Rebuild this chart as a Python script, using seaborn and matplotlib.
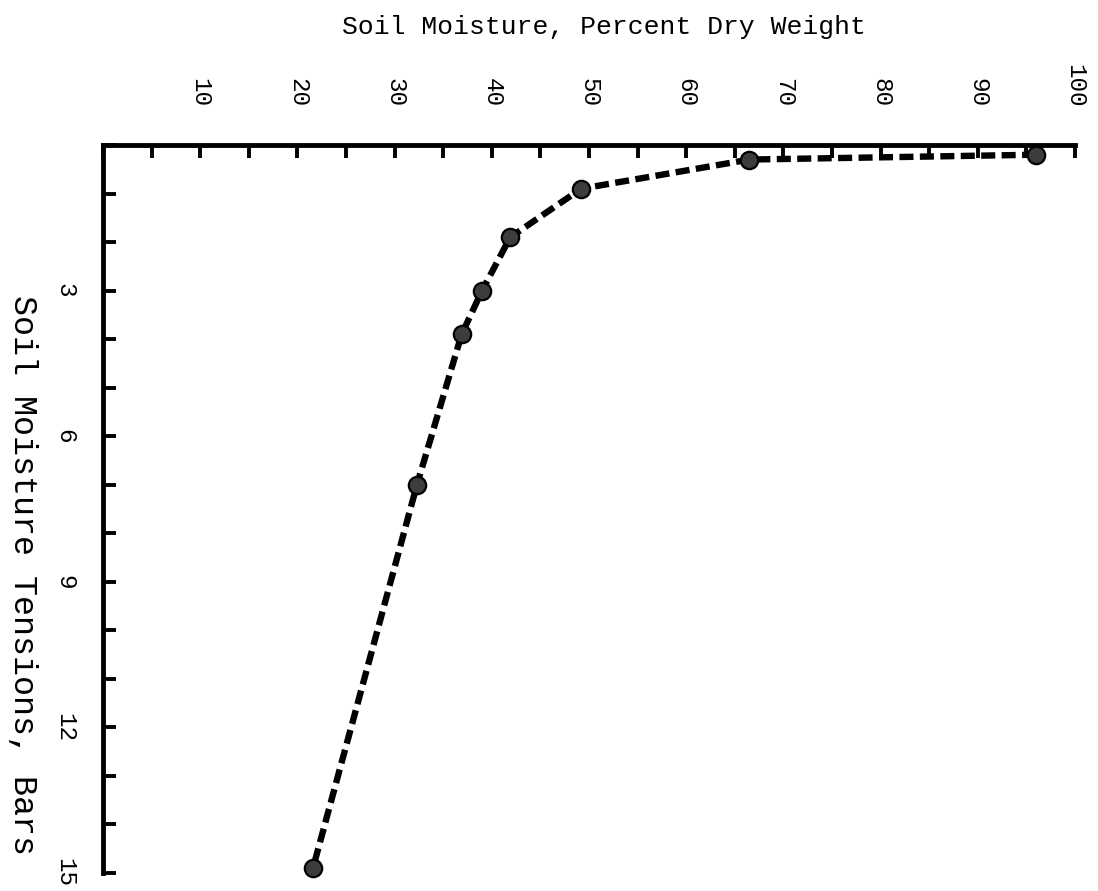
import matplotlib
matplotlib.use("Agg")
import matplotlib.pyplot as plt
import seaborn as sns
import pandas as pd

# Data (soil moisture retention curve)
moisture_pct = [96.0, 66.5, 49.2, 41.9, 39.0, 36.9, 32.3, 21.6]
tension_bars = [0.2, 0.3, 0.9, 1.9, 3.0, 3.9, 7.0, 14.9]
x_tick_values = [10, 20, 30, 40, 50, 60, 70, 80, 90, 100]
y_tick_values = [3, 6, 9, 12, 15]

sns.set_theme(style="white")
plt.rcParams["font.family"] = ["Liberation Mono", "DejaVu Sans Mono"]
plt.rcParams["text.color"] = "black"

W, H = 1098, 891
fig = plt.figure(figsize=(W / 100, H / 100), dpi=100)
left, right, top, bottom = 103, 1075, 145, 873
ax = fig.add_axes([left / W, 1 - bottom / H, (right - left) / W, (bottom - top) / H])

df = pd.DataFrame({"moisture": moisture_pct, "tension": tension_bars})
sns.lineplot(data=df, x="moisture", y="tension", sort=False, estimator=None, ax=ax,
             color="black", linewidth=4.6, linestyle=(0, (2.2, 1.0)),
             marker="o", markersize=12.5, markerfacecolor="#3c3c3c",
             markeredgecolor="black", markeredgewidth=1.6, zorder=5, clip_on=False)

ax.set_xlim(0, 100)
ax.set_ylim(15, 0)

# spines
for side in ["right", "bottom"]:
    ax.spines[side].set_visible(False)
for side in ["top", "left"]:
    ax.spines[side].set_visible(True)
    ax.spines[side].set_linewidth(3.5)
    ax.spines[side].set_color("black")

# ticks
xt = list(range(0, 101, 5))
ax.set_xticks(xt)
ax.set_xticklabels([str(v) if v in x_tick_values else "" for v in xt], rotation=-90)
yt = list(range(0, 16))
ax.set_yticks(yt)
ax.set_yticklabels([str(v) if v in y_tick_values else "" for v in yt], rotation=-90,
                   va="center")

ax.tick_params(axis="x", which="both", top=True, bottom=False, labeltop=True,
               labelbottom=False, direction="in", length=9, width=2.8,
               color="black", labelcolor="black", labelsize=17.5, pad=27)
ax.tick_params(axis="y", which="both", left=True, right=False, labelleft=True,
               direction="in", length=9, width=2.8, color="black",
               labelcolor="black", labelsize=17.5, pad=19)
ax.set_xlabel("")
ax.set_ylabel("")

fig.text(604 / W, 1 - 27 / H, "Soil Moisture, Percent Dry Weight", ha="center",
         va="center", fontsize=19, color="black")
fig.text(22 / W, 1 - 575 / H, "Soil Moisture Tensions, Bars", ha="center",
         va="center", rotation=-90, fontsize=24, color="black")

fig.savefig("out.png", dpi=100, facecolor="white")
